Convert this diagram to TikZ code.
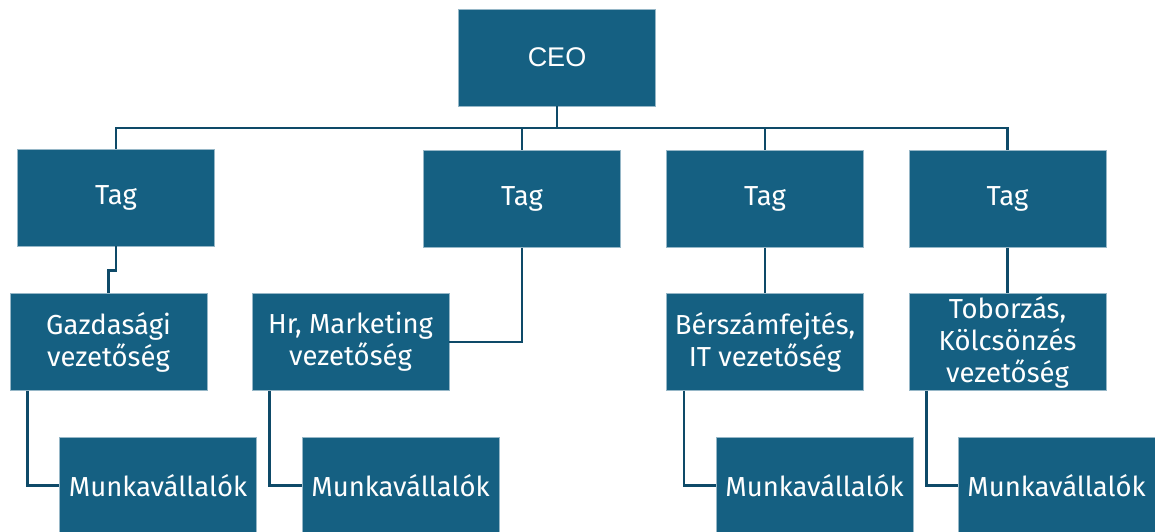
\documentclass[tikz,border=0pt]{standalone}
\usepackage{fontspec}
\setmainfont{Fira Sans}
\newfontfamily\ceofont{Liberation Sans}
\definecolor{boxblue}{HTML}{156082}
\definecolor{linkblue}{HTML}{0E4A68}
\begin{document}
\begin{tikzpicture}[x=1pt,y=-1pt,
    orgbox/.style={draw=boxblue!45!white,line width=0.8pt,fill=boxblue,text=white,
        minimum width=197pt,minimum height=97pt,align=center,inner sep=0pt,
        font=\fontsize{27.5}{32}\selectfont},
    link/.style={draw=linkblue,line width=2.8pt}]
        \useasboundingbox (0,0) rectangle (1155,532);

        \node[orgbox,font=\ceofont\fontsize{27}{32}\selectfont] (ceo) at (557,57.5) {CEO};
        \node[orgbox] (tag1) at (116,197.5) {Tag};
        \node[orgbox] (tag2) at (522,199) {Tag};
        \node[orgbox] (tag3) at (765,199) {Tag};
        \node[orgbox] (tag4) at (1007.5,199) {Tag};

        \node[orgbox] (gazd) at (108.5,342) {Gazdasági\\vezetőség};
        \node[orgbox] (hr) at (350.5,342) {Hr, Marketing\\vezetőség};
        \node[orgbox] (bers) at (765,342) {Bérszámfejtés,\\IT vezetőség};
        \node[orgbox] (tob) at (1007.5,342) {Toborzás,\\Kölcsönzés\\vezetőség};

        \node[orgbox] (munka1) at (158,485.5) {Munkavállalók};
        \node[orgbox] (munka2) at (400.5,485.5) {Munkavállalók};
        \node[orgbox] (munka3) at (814.5,485.5) {Munkavállalók};
        \node[orgbox] (munka4) at (1056.5,485.5) {Munkavállalók};

        \coordinate (bus) at (557,128);
        \draw[link] (ceo.south) -- (bus);
        \draw[link] (tag1.north) |- (bus) -| (tag4.north);
        \draw[link] (bus) -| (tag2.north);
        \draw[link] (bus) -| (tag3.north);

        \draw[link] (tag1.south) -- ++(0,24) -| (gazd.north);
        \draw[link] (tag2.south) |- (hr.east);
        \draw[link] (tag3.south) -- (bers.north);
        \draw[link] (tag4.south) -- (tob.north);

        \foreach \mgr/\staff in {gazd/munka1,hr/munka2,bers/munka3,tob/munka4}
            \draw[link] ([xshift=-81pt]\mgr.south) |- (\staff.west);
    \end{tikzpicture}
\end{document}
